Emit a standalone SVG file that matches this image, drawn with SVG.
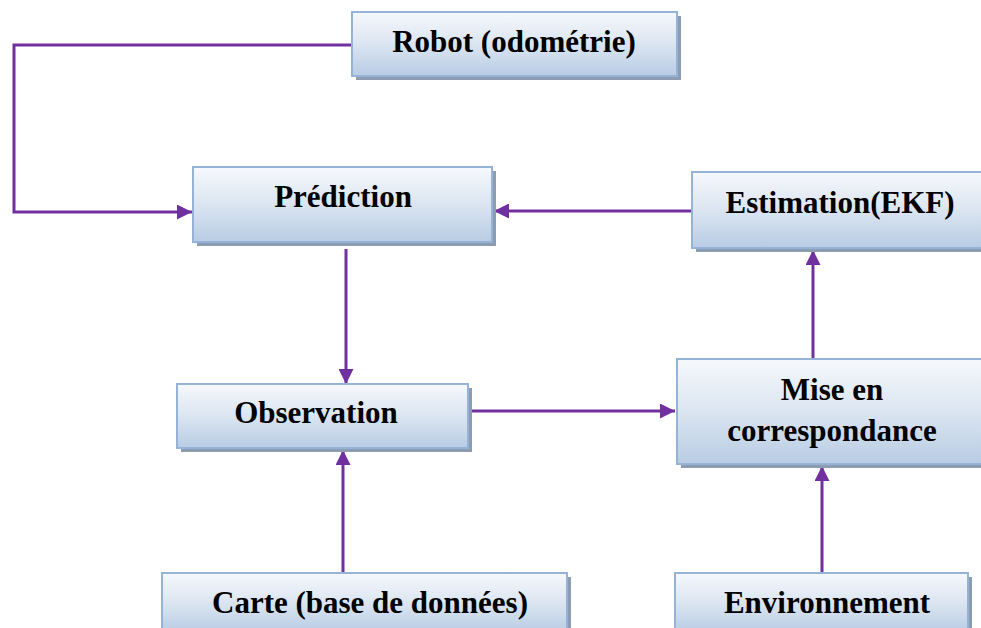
<svg xmlns="http://www.w3.org/2000/svg" width="981" height="628" viewBox="0 0 981 628">
<style>
.box{fill:url(#g);stroke:#95b3d7;stroke-width:2}
.sh{fill:#8c9db3}
.t{font-family:"Liberation Serif","Times New Roman",serif;font-weight:bold;font-size:31px;fill:#000;text-anchor:middle}
.c{fill:none;stroke:#7030a0;stroke-width:3}
</style>
<defs>
<linearGradient id="g" x1="0" y1="0" x2="0" y2="1">
<stop offset="0" stop-color="#f6f8fc"/>
<stop offset="0.5" stop-color="#dbe5f1"/>
<stop offset="1" stop-color="#b8cce4"/>
</linearGradient>
<marker id="a" viewBox="0 0 10 10" refX="10" refY="5" markerWidth="5" markerHeight="5" orient="auto" markerUnits="strokeWidth">
<path d="M0,0 L10,5 L0,10 Z" fill="#7030a0"/>
</marker>
</defs>
<rect width="981" height="628" fill="#fff"/>
<g id="connectors">
<polyline class="c" points="352,45 14,45 14,212 192,212" marker-end="url(#a)"/>
<line class="c" x1="692" y1="211" x2="494" y2="211" marker-end="url(#a)"/>
<line class="c" x1="346" y1="249" x2="346" y2="384" marker-end="url(#a)"/>
<line class="c" x1="470" y1="411" x2="675" y2="411" marker-end="url(#a)"/>
<line class="c" x1="813" y1="358" x2="813" y2="250" marker-end="url(#a)"/>
<line class="c" x1="343" y1="573" x2="343" y2="450" marker-end="url(#a)"/>
<line class="c" x1="822" y1="572" x2="822" y2="466" marker-end="url(#a)"/>
</g>
<g id="robot">
<rect class="sh" x="356" y="16" width="325" height="64"/>
<rect class="box" x="352" y="12" width="325" height="64"/>
<text class="t" x="514" y="52">Robot (odométrie)</text>
</g>
<g id="prediction">
<rect class="sh" x="197" y="171" width="299" height="75"/>
<rect class="box" x="193" y="167" width="299" height="75"/>
<text class="t" x="343" y="207">Prédiction</text>
</g>
<g id="estimation">
<rect class="sh" x="696" y="176" width="295" height="76"/>
<rect class="box" x="692" y="172" width="295" height="76"/>
<text class="t" x="840" y="213">Estimation(EKF)</text>
</g>
<g id="observation">
<rect class="sh" x="181" y="388" width="291" height="64"/>
<rect class="box" x="177" y="384" width="291" height="64"/>
<text class="t" x="316" y="423">Observation</text>
</g>
<g id="mise">
<rect class="sh" x="681" y="363" width="310" height="105"/>
<rect class="box" x="677" y="359" width="310" height="105"/>
<text class="t" x="832" y="400">Mise en</text>
<text class="t" x="832" y="441">correspondance</text>
</g>
<g id="carte">
<rect class="sh" x="166" y="577" width="405" height="60"/>
<rect class="box" x="162" y="573" width="405" height="60"/>
<text class="t" x="370" y="613">Carte (base de données)</text>
</g>
<g id="environnement">
<rect class="sh" x="679" y="577" width="293" height="60"/>
<rect class="box" x="675" y="573" width="293" height="60"/>
<text class="t" x="827" y="613">Environnement</text>
</g>
</svg>
